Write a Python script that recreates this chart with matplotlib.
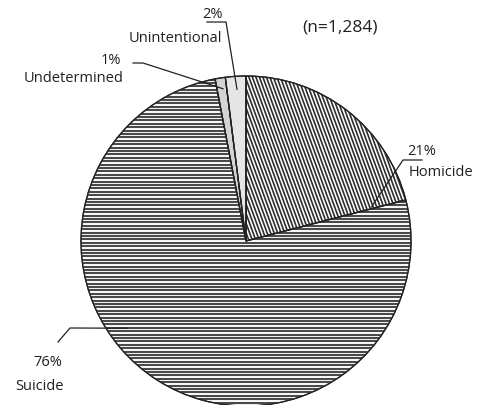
import numpy as np
import matplotlib.pyplot as plt
from matplotlib.patches import Wedge
from matplotlib.collections import LineCollection

plt.rcParams['font.family'] = ['Open Sans', 'DejaVu Sans']

labels = ['Homicide', 'Suicide', 'Undetermined', 'Unintentional']
shares = [21, 76, 1, 2]
total_n = 1284

W, H = 481, 406
cx, cy, R = 246, H - 242, 165

fig = plt.figure(figsize=(W / 100, H / 100), dpi=100)
ax = fig.add_axes([0, 0, 1, 1])

wedges, _ = ax.pie(shares, startangle=90, counterclock=False,
                   center=(cx, cy), radius=R,
                   colors=['white', 'white', '#d4d4d4', '#e6e6e6'],
                   wedgeprops=dict(edgecolor='#222222', linewidth=0.9))

# horizontal stripes for suicide, steep diagonal stripes for homicide
ys = np.arange(cy - R, cy + R, 3.4)
segs = [[(cx - R, y), (cx + R, y)] for y in ys]
lc = LineCollection(segs, colors='#4a4a4a', linewidths=1.5)
ax.add_collection(lc)
lc.set_clip_path(wedges[1])

slope = np.tan(np.radians(70))
xs = np.arange(cx - 2 * R, cx + 2 * R, 3.5)
segs = [[(x, cy + R), (x + 2 * R / slope, cy - R)] for x in xs]
lc2 = LineCollection(segs, colors='#2e2e2e', linewidths=1.2)
ax.add_collection(lc2)
lc2.set_clip_path(wedges[0])

# redraw the wedge edges on top of the stripes
for w in wedges:
    ax.add_patch(Wedge((cx, cy), R, w.theta1, w.theta2, fill=False,
                       edgecolor='#222222', linewidth=0.9, zorder=5))


def on_pie(angle, r):
    a = np.radians(angle)
    return cx + r * np.cos(a), cy + r * np.sin(a)


def leader(pts, angle, r):
    px = [p[0] for p in pts]
    py = [H - p[1] for p in pts]
    ex, ey = on_pie(angle, r)
    ax.plot(px + [ex], py + [ey], color='#222222', lw=0.9, zorder=6)


txt = dict(fontsize=10.5, color='#231f20', va='center')

# Unintentional
ax.text(223, H - 14, f'{shares[3]}%', ha='right', **txt)
ax.text(222, H - 38, labels[3], ha='right', **txt)
leader([(207, 23), (226, 23)], 93.4, 152)

# Undetermined
ax.text(121, H - 60, f'{shares[2]}%', ha='right', **txt)
ax.text(124, H - 79, labels[2], ha='right', **txt)
leader([(133, 64), (143, 64)], 98.6, 154)

# Homicide
ax.text(407, H - 152, f'{shares[0]}%', ha='left', **txt)
ax.text(409, H - 173, labels[0], ha='left', **txt)
leader([(422, 161), (403, 161)], 15.2, 130)

# Suicide
ax.text(62, H - 363, f'{shares[1]}%', ha='right', **txt)
ax.text(64, H - 387, labels[1], ha='right', **txt)
leader([(58, 343), (70, 329)], 216.4, 147)

ax.text(340, H - 27, f'(n={total_n:,})', ha='center', va='center',
        fontsize=12.5, color='#231f20')

ax.set_xlim(0, W)
ax.set_ylim(0, H)
ax.set_aspect('auto')
ax.axis('off')

fig.savefig('out.png', dpi=100)
